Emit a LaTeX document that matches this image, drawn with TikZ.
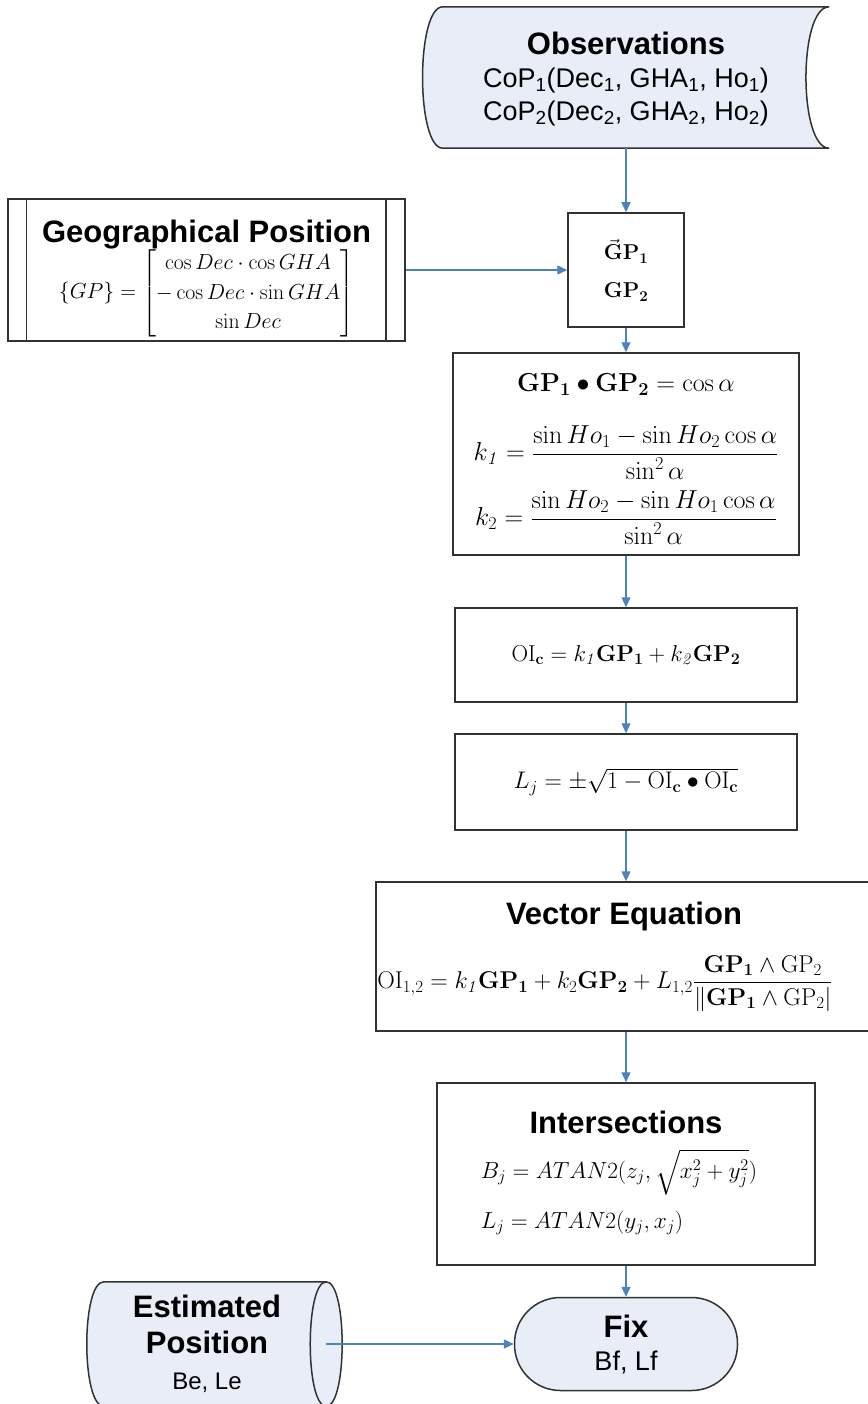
\RequirePackage{fix-cm}
\documentclass[tikz,border=0pt]{standalone}
\usepackage{amsmath}
\usepackage[no-math]{fontspec}
\setmainfont{Liberation Sans}
\usepackage{xcolor}
\usepackage{tikz}
\usetikzlibrary{arrows.meta,positioning,calc,backgrounds}

\definecolor{shapefill}{RGB}{232,237,247}
\definecolor{shapeline}{RGB}{50,50,50}
\definecolor{linkblue}{RGB}{79,129,189}

\newcommand{\flowtitle}{\fontsize{31}{36}\selectfont\bfseries}
\newcommand{\flowbody}{\fontsize{27}{33}\selectfont}
\newcommand{\flowsmall}{\fontsize{24}{30}\selectfont}
\newcommand{\flowmath}{\fontsize{23}{28}\selectfont}

\begin{document}
\begin{tikzpicture}[
  x=1pt, y=-1pt,
  box/.style={
    draw=shapeline,
    line width=1.5pt,
    fill=white,
    inner sep=0pt,
    align=center
  },
  plain/.style={
    inner sep=0pt,
    align=center
  },
  outline/.style={
    draw=shapeline,
    line width=1.5pt,
    fill=shapefill
  },
  arrow/.style={
    -{Triangle[length=10pt,width=9pt]},
    draw=linkblue,
    line width=1.3pt
  }
]
\useasboundingbox (0,0) rectangle (867,1404);

%---------------------------------
% Inputs
%---------------------------------
\node[plain, font=\flowbody, minimum width=406pt, minimum height=141pt] (obs) at (626,79)
{{\flowtitle Observations}\\
 CoP\textsubscript{1}(Dec\textsubscript{1}, GHA\textsubscript{1}, Ho\textsubscript{1})\\
 CoP\textsubscript{2}(Dec\textsubscript{2}, GHA\textsubscript{2}, Ho\textsubscript{2})};

\node[box, font=\flowmath, minimum width=397pt, minimum height=142pt] (geo) at (206.5,270)
{\rule{0pt}{40pt}{\flowtitle Geographical Position}\\[-1pt]
 {\fontsize{21.8}{28}\selectfont\renewcommand{\arraystretch}{1.05}%
 $\{GP\}=\begin{bmatrix}\cos Dec\cdot\cos GHA\\ -\cos Dec\cdot\sin GHA\\ \sin Dec\end{bmatrix}$}};
\draw[draw=shapeline, line width=1.5pt] ($(geo.north west)+(19,0)$) -- ($(geo.south west)+(19,0)$);
\draw[draw=shapeline, line width=1.5pt] ($(geo.north east)+(-20,0)$) -- ($(geo.south east)+(-20,0)$);

%---------------------------------
% Computation chain
%---------------------------------
\node[box, font=\fontsize{21.5}{26}\selectfont, minimum width=116pt, minimum height=114pt] (gp) at (626,270)
{$\vec{\mathbf{G}}\mathbf{P}_{\mathbf{1}}$\\[12pt] $\mathbf{GP}_{\mathbf{2}}$};

\node[box, font=\fontsize{26}{31}\selectfont, minimum width=346pt, minimum height=202pt] (kcoef) at (626,454)
{\rule{0pt}{28pt}$\displaystyle\mathbf{GP}_{\mathbf 1}\bullet\mathbf{GP}_{\mathbf 2}=\cos\alpha$\\[29pt]
 $\displaystyle k_{\mathit 1}=\frac{\sin Ho_1-\sin Ho_2\cos\alpha}{\sin^2\alpha}$\\[10pt]
 $\displaystyle k_2=\frac{\sin Ho_2-\sin Ho_1\cos\alpha}{\sin^2\alpha}$};

\node[box, font=\flowmath, minimum width=342pt, minimum height=94pt] (oic) at (626,655)
{$\mathrm{OI}_{\mathbf c}=k_{\mathit 1}\mathbf{GP}_{\mathbf 1}+k_{\mathit 2}\mathbf{GP}_{\mathbf 2}$};

\node[box, font=\fontsize{24}{29}\selectfont, minimum width=342pt, minimum height=96pt] (ljay) at (626,782)
{$L_j=\pm\sqrt{1-\mathrm{OI}_{\mathbf c}\bullet\mathrm{OI}_{\mathbf c}}$};

\node[box, font=\flowmath, minimum width=496pt, minimum height=149pt] (veq) at (624,956.5)
{{\flowtitle Vector Equation}\\[24pt]
 {\fontsize{24.3}{29}\selectfont
 $\mathrm{OI}_{1,2}=k_{\mathit 1}\mathbf{GP_1}+k_2\mathbf{GP_2}+L_{1,2}\dfrac{\mathbf{GP}_{\mathbf 1}\wedge\mathrm{GP}_2}{\left\|\mathbf{GP}_{\mathbf 1}\wedge\mathrm{GP}_2\right|}$\hspace*{38pt}}};

\node[box, font=\fontsize{23.3}{28}\selectfont, minimum width=378pt, minimum height=182pt] (isec) at (626,1174)
{{\flowtitle Intersections}\\[14pt]
 $\begin{array}{@{}l@{}}B_j=ATAN2(z_j,\sqrt{x_j^2+y_j^2})\\[22pt] L_j=ATAN2(y_j,x_j)\end{array}$\hspace*{14pt}};

%---------------------------------
% Result
%---------------------------------
\node[box, fill=shapefill, rounded corners=46pt, font=\flowbody, minimum width=223pt, minimum height=93pt] (fix) at (626,1344)
{{\flowtitle Fix}\\ Bf, Lf};

\node[plain, font=\flowbody, minimum width=206pt, minimum height=124pt] (est) at (207,1344)
{{\flowtitle Estimated}\\[3pt] {\flowtitle Position}\\[3pt] {\flowsmall Be, Le}};
\coordinate (estc) at ($(est.east)+(16,0)$);

%---------------------------------
% Shapes behind the text
%---------------------------------
\begin{scope}[on background layer]
  \fill[white] (0,0) rectangle (867,1404);
  \draw[outline] ($(obs.north west)+(20,-1.5)$) -- ($(obs.north east)+(0,-1.5)$)
    .. controls ($(obs.north east)+(-31,-1.5)$) and ($(obs.south east)+(-31,-1.5)$) .. ($(obs.south east)+(0,-1.5)$)
    -- ($(obs.south west)+(20,-1.5)$)
    .. controls ($(obs.south west)+(-7,-1.5)$) and ($(obs.north west)+(-7,-1.5)$) .. cycle;
  \draw[outline] (est.north west) -- ($(est.north east)+(16,0)$)
    .. controls ($(est.north east)+(37.3,0)$) and ($(est.south east)+(37.3,0)$) .. ($(est.south east)+(16,0)$)
    -- (est.south west)
    .. controls ($(est.south west)+(-22.7,0)$) and ($(est.north west)+(-22.7,0)$) .. cycle;
  \draw[draw=shapeline, line width=1.5pt] ($(est.north east)+(16,0)$)
    .. controls ($(est.north east)+(-5.3,0)$) and ($(est.south east)+(-5.3,0)$) .. ($(est.south east)+(16,0)$);
\end{scope}

%---------------------------------
% Connections
%---------------------------------
\draw[arrow] ($(obs.south)+(0,-1.5)$) -- (gp.north);
\draw[arrow] (geo.east) -- (gp.west);
\draw[arrow] (gp.south) -- (kcoef.north);
\draw[arrow] (kcoef.south) -- (oic.north);
\draw[arrow] (oic.south) -- (ljay.north);
\draw[arrow] (ljay.south) -- (ljay.south |- veq.north);
\draw[arrow] (ljay.south |- veq.south) -- (isec.north);
\draw[arrow] (isec.south) -- (fix.north);
\draw[arrow] (estc) -- (fix.west);

\end{tikzpicture}
\end{document}
